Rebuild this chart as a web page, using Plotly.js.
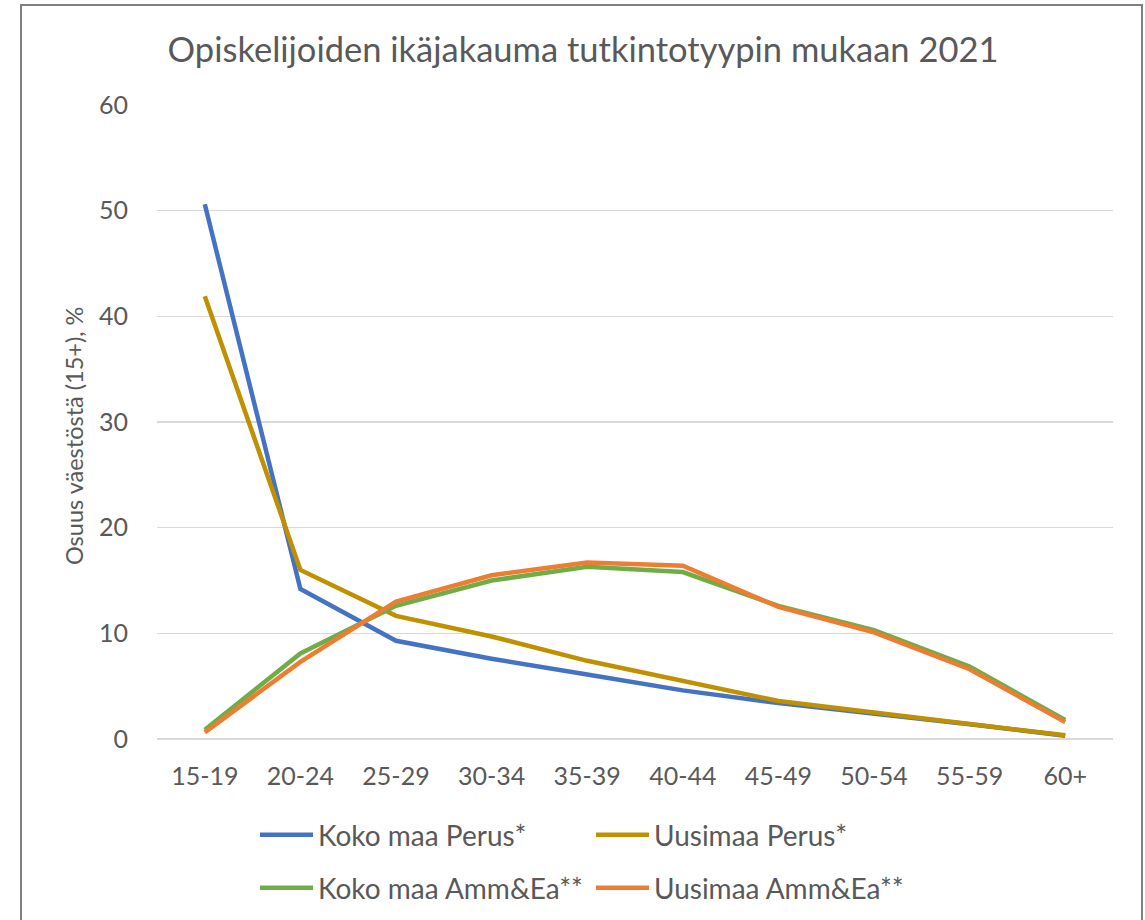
<!DOCTYPE html>
<html>
<head>
<meta charset="utf-8">
<script src="https://cdn.plot.ly/plotly-3.0.1.min.js"></script>
<style>
  html, body { margin: 0; padding: 0; background: #ffffff; overflow: hidden; }
  #wrap { position: relative; width: 1145px; height: 920px; }
  #chart { position: absolute; left: 0; top: 0; width: 1145px; height: 920px; }
  #frame { position: absolute; left: 20px; top: 4px; width: 1119px; height: 1000px;
           border: 2px solid #808080; border-bottom: none; pointer-events: none; }
</style>
</head>
<body>
<div id="wrap">
  <div id="chart"></div>
  <div id="frame"></div>
</div>
<script>
// ---- data ----
const ageGroups = ['15-19', '20-24', '25-29', '30-34', '35-39', '40-44', '45-49', '50-54', '55-59', '60+'];
const kokoMaaPerus = [50.6, 14.2, 9.3, 7.6, 6.1, 4.6, 3.4, 2.45, 1.4, 0.3];
const uusimaaPerus = [41.9, 16.0, 11.65, 9.7, 7.4, 5.5, 3.6, 2.5, 1.4, 0.35];
const kokoMaaAmmEa = [0.88, 8.1, 12.6, 15.0, 16.3, 15.8, 12.6, 10.3, 6.85, 1.8];
const uusimaaAmmEa = [0.63, 7.3, 13.0, 15.5, 16.7, 16.4, 12.5, 10.1, 6.6, 1.6];
const seriesNames = ['Koko maa Perus*', 'Uusimaa Perus*', 'Koko maa Amm&Ea**', 'Uusimaa Amm&Ea**'];
const yTicks = [0, 10, 20, 30, 40, 50, 60];
const chartTitle = 'Opiskelijoiden ikäjakauma tutkintotyypin mukaan 2021';
const yTitle = 'Osuus väestöstä (15+), %';

const colors = ['#4472C4', '#BF9000', '#70AD47', '#ED7D31'];
const FONT = 'Lato, "Open Sans", sans-serif';
const TXT = '#595959';

function mk(y, i, legendId) {
  return {
    type: 'scatter', mode: 'lines', x: ageGroups, y: y, name: seriesNames[i],
    line: { color: colors[i], width: 4.5 }, legend: legendId, hoverinfo: 'skip'
  };
}
const data = [
  mk(kokoMaaPerus, 0, 'legend'),
  mk(uusimaaPerus, 1, 'legend'),
  mk(kokoMaaAmmEa, 2, 'legend2'),
  mk(uusimaaAmmEa, 3, 'legend2')
];

const legendCommon = {
  orientation: 'h', xref: 'container', yref: 'container', xanchor: 'left', yanchor: 'middle',
  font: { family: FONT, size: 28, color: TXT }, itemwidth: 53,
  entrywidth: 268, entrywidthmode: 'pixels', bgcolor: 'rgba(0,0,0,0)', borderwidth: 0,
  traceorder: 'normal'
};

const ML = 157, MR = 32, MT = 105, MB = 181, W = 1145, H = 920;
const plotW = W - ML - MR, plotH = H - MT - MB;

const layout = {
  width: W, height: H,
  paper_bgcolor: '#ffffff', plot_bgcolor: '#ffffff',
  margin: { l: ML, r: MR, t: MT, b: MB },
  title: {
    text: chartTitle, xref: 'container', yref: 'container',
    x: 583 / W, xanchor: 'center', y: 1 - 50 / H, yanchor: 'middle',
    font: { family: FONT, size: 34.5, color: TXT, weight: 400 }
  },
  xaxis: {
    type: 'category', range: [-0.5, ageGroups.length - 0.5],
    showgrid: false, zeroline: false, showline: false, ticks: '',
    ticklabelstandoff: 20,
    tickfont: { family: FONT, size: 25, color: TXT }
  },
  yaxis: {
    range: [0, 60], tickvals: yTicks, ticktext: yTicks.map(String),
    showgrid: true, gridcolor: '#d9d9d9', gridwidth: 1.5,
    zeroline: true, zerolinecolor: '#d9d9d9', zerolinewidth: 1.5,
    showline: false, ticks: '', ticklabelstandoff: 28,
    tickfont: { family: FONT, size: 25, color: TXT },
    automargin: false
  },
  annotations: [{
    text: yTitle, textangle: -90, showarrow: false,
    xref: 'paper', x: (74 - ML) / plotW, xanchor: 'center',
    yref: 'paper', y: (H - MB - 436) / plotH, yanchor: 'middle',
    font: { family: FONT, size: 23.5, color: TXT }
  }],
  legend: Object.assign({}, legendCommon, { x: 255 / W, y: 1 - 835 / H }),
  legend2: Object.assign({}, legendCommon, { x: 255 / W, y: 1 - 888 / H }),
  showlegend: true,
  hovermode: false
};

Plotly.newPlot('chart', data, layout, { displayModeBar: false, staticPlot: true });
</script>
</body>
</html>
